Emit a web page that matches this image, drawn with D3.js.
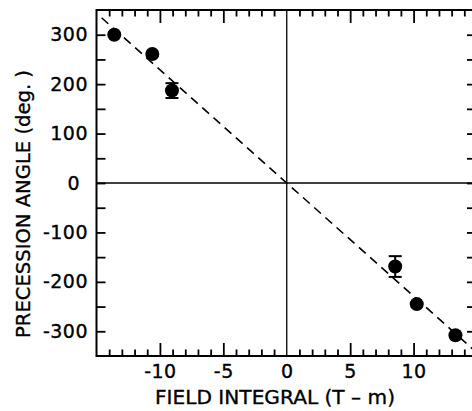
<!DOCTYPE html>
<html>
<head>
<meta charset="utf-8">
<script src="https://cdn.jsdelivr.net/npm/d3@7"></script>
<style>
  html, body { margin: 0; padding: 0; background: #fff; }
  svg { display: block; }
  text { font-family: "DejaVu Sans", "Liberation Sans", sans-serif; fill: #000; stroke: #000; stroke-width: 0.35px; }
</style>
</head>
<body>
<script>
// ---- data ----
const fieldIntegral = [-13.6, -10.6, -9.05, 8.55, 10.25, 13.3];
const precessionAngle = [300, 261, 187, -169, -245, -308];
const angleError = [0, 0, 15, 21, 0, 0];
const fitSlope = -22.9;            // deg per T-m, line through origin
const fitRange = [-14.6, 15];
const xDomain = [-15, 15];
const yDomain = [-350, 350];
const xLabelTicks = [-10, -5, 0, 5, 10];
const yLabelTicks = [300, 200, 100, 0, -100, -200, -300];
const xTitle = "FIELD  INTEGRAL  (T \u2013 m)";
const yTitle = "PRECESSION  ANGLE  (deg. )";

// ---- layout ----
const W = 472, H = 411;
const svg = d3.select("body").append("svg").attr("width", W).attr("height", H);
svg.append("rect").attr("width", W).attr("height", H).attr("fill", "#fff");

const x = d3.scaleLinear().domain(xDomain).range([96.5, 477]);
const y = d3.scaleLinear().domain(yDomain).range([356, 10]);

const L = x(xDomain[0]), R = x(xDomain[1]), T = y(yDomain[1]), B = y(yDomain[0]);

function styleAxis(g, sw) {
  g.select(".domain").remove();
  g.selectAll(".tick line").attr("stroke", "#000").attr("stroke-width", sw);
  g.selectAll(".tick text").style("font-family", "DejaVu Sans").style("font-size", "19px")
    .attr("fill", "#000").attr("letter-spacing", "0.5px");
}

const xMinor = d3.range(xDomain[0] + 1, xDomain[1]).filter(v => v % 5 !== 0);
const xMajor = d3.range(xDomain[0] + 5, xDomain[1], 5).filter(v => v !== 0);
const yAll = d3.range(yDomain[0] + 50, yDomain[1], 50);

// bottom
svg.append("g").attr("transform", `translate(0,${B})`)
  .call(d3.axisBottom(x).tickValues(xMinor).tickSize(-6.5).tickFormat(""))
  .call(g => styleAxis(g, 1.8));
svg.append("g").attr("transform", `translate(0,${B})`)
  .call(d3.axisBottom(x).tickValues(xMajor).tickSize(-13).tickFormat(""))
  .call(g => styleAxis(g, 1.8));
svg.append("g").attr("transform", `translate(0,${B})`)
  .call(d3.axisBottom(x).tickValues(xLabelTicks).tickSize(0).tickPadding(9).tickFormat(d => String(d)))
  .call(g => styleAxis(g, 0));
// top
svg.append("g").attr("transform", `translate(0,${T})`)
  .call(d3.axisTop(x).tickValues(xMinor).tickSize(-6.5).tickFormat(""))
  .call(g => styleAxis(g, 1.8));
svg.append("g").attr("transform", `translate(0,${T})`)
  .call(d3.axisTop(x).tickValues(xMajor).tickSize(-13).tickFormat(""))
  .call(g => styleAxis(g, 1.8));
// left
svg.append("g").attr("transform", `translate(${L},0)`)
  .call(d3.axisLeft(y).tickValues(yAll).tickSize(-9).tickFormat(""))
  .call(g => styleAxis(g, 1.8));
svg.append("g").attr("transform", `translate(${L},0)`)
  .call(d3.axisLeft(y).tickValues(yLabelTicks).tickSize(0).tickPadding(8.5).tickFormat(d => String(d)))
  .call(g => styleAxis(g, 0))
  .call(g => g.selectAll(".tick text").filter(d => d === 0).attr("dx", -8));
// right
svg.append("g").attr("transform", `translate(${R},0)`)
  .call(d3.axisRight(y).tickValues(yAll).tickSize(-10).tickFormat(""))
  .call(g => styleAxis(g, 1.8));

// zero lines
svg.append("line").attr("x1", x(0)).attr("x2", x(0)).attr("y1", T).attr("y2", B)
  .attr("stroke", "#000").attr("stroke-width", 1.3);
svg.append("line").attr("x1", L).attr("x2", R).attr("y1", y(0)).attr("y2", y(0))
  .attr("stroke", "#000").attr("stroke-width", 1.3);

// frame
svg.append("rect").attr("x", L).attr("y", T).attr("width", R - L).attr("height", B - T)
  .attr("fill", "none").attr("stroke", "#000").attr("stroke-width", 2);

// dashed fit line
const fitLine = d3.line().x(d => x(d)).y(d => y(fitSlope * d));
svg.append("path").attr("d", fitLine(fitRange))
  .attr("fill", "none").attr("stroke", "#000").attr("stroke-width", 1.6)
  .attr("stroke-dasharray", "9,6");

// data
const pts = fieldIntegral.map((v, i) => ({x: v, y: precessionAngle[i], e: angleError[i]}));
const eb = svg.append("g").attr("stroke", "#000").attr("stroke-width", 2);
pts.filter(d => d.e > 0).forEach(d => {
  eb.append("line").attr("x1", x(d.x)).attr("x2", x(d.x)).attr("y1", y(d.y + d.e)).attr("y2", y(d.y - d.e));
  eb.append("line").attr("x1", x(d.x) - 6.5).attr("x2", x(d.x) + 6.5).attr("y1", y(d.y + d.e)).attr("y2", y(d.y + d.e));
  eb.append("line").attr("x1", x(d.x) - 6.5).attr("x2", x(d.x) + 6.5).attr("y1", y(d.y - d.e)).attr("y2", y(d.y - d.e));
});
svg.append("g").selectAll("circle").data(pts).join("circle")
  .attr("cx", d => x(d.x)).attr("cy", d => y(d.y)).attr("r", 7).attr("fill", "#000");

// titles
svg.append("text").attr("x", 275).attr("y", 404).attr("text-anchor", "middle")
  .style("font-size", "19.5px").attr("textLength", 240).attr("lengthAdjust", "spacingAndGlyphs")
  .text(xTitle);
svg.append("text").attr("transform", "translate(30,204) rotate(-90)").attr("text-anchor", "middle")
  .style("font-size", "19.5px").attr("textLength", 268).attr("lengthAdjust", "spacingAndGlyphs")
  .text(yTitle);
</script>
</body>
</html>
